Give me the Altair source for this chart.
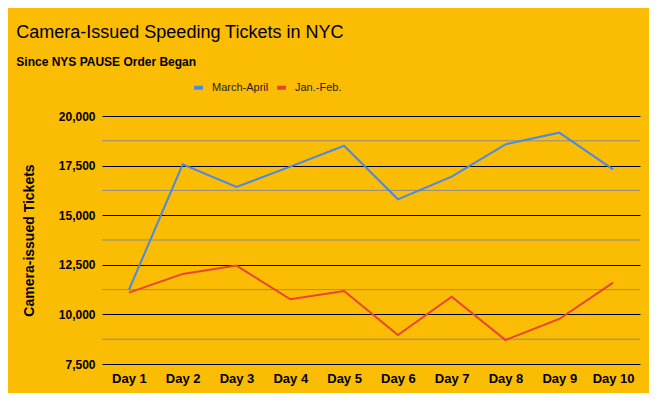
import altair as alt
import pandas as pd

days = ["Day 1", "Day 2", "Day 3", "Day 4", "Day 5", "Day 6", "Day 7", "Day 8", "Day 9", "Day 10"]
march_april = [11230, 17560, 16420, 17450, 18500, 15800, 16940, 18570, 19160, 17310]
jan_feb = [11100, 12040, 12460, 10760, 11180, 8960, 10890, 8710, 9770, 11600]
series_names = ["March-April", "Jan.-Feb."]
major_ticks = [7500, 10000, 12500, 15000, 17500, 20000]
minor_ticks = [8750, 11250, 13750, 16250, 18750]

rows = []
for d, v in zip(days, march_april):
    rows.append({"day": d, "value": v, "series": series_names[0]})
for d, v in zip(days, jan_feb):
    rows.append({"day": d, "value": v, "series": series_names[1]})
df = pd.DataFrame(rows)
minor_df = pd.DataFrame({"value": minor_ticks})

BG = "#FBBC04"
FONT = "Liberation Sans, Arial, sans-serif"

y_scale = alt.Scale(domain=[7500, 20000], nice=False, zero=False)
y_axis = alt.Axis(title="Camera-issued Tickets", values=major_ticks, ticks=False, domain=False,
                  labelExpr="format(datum.value, ',')",
                  gridColor="#000000", gridWidth=1, gridOpacity=1,
                  labelFont=FONT, labelFontWeight="bold", labelFontSize=12,
                  labelColor="#000", labelPadding=7,
                  titleFont=FONT, titleFontWeight="bold", titleFontSize=14,
                  titleColor="#000", titlePadding=22)

minor = alt.Chart(minor_df).mark_rule(color="#8c8c8c", strokeWidth=1).encode(
    y=alt.Y("value:Q", scale=y_scale, axis=y_axis)
)

lines = alt.Chart(df).mark_line(strokeWidth=2).encode(
    x=alt.X("day:N", sort=days, scale=alt.Scale(type="point", padding=0.5),
            axis=alt.Axis(title=None, labelAngle=0, ticks=False, domain=False, grid=False,
                          labelFont=FONT, labelFontWeight="bold", labelFontSize=13,
                          labelColor="#000", labelPadding=8)),
    y=alt.Y("value:Q", scale=y_scale, axis=y_axis),
    color=alt.Color("series:N", sort=series_names,
                    scale=alt.Scale(domain=series_names, range=["#4A89E8", "#EA4335"]),
                    legend=alt.Legend(title=None, orient="none", direction="horizontal",
                                      legendX=90, legendY=-35, symbolType="stroke",
                                      symbolStrokeWidth=4, symbolSize=80,
                                      labelFont=FONT, labelFontSize=11, labelColor="#222",
                                      labelOffset=7, columnPadding=0)),
)

chart = alt.layer(minor, lines).properties(
    width=538,
    height=248,
    background=BG,
    padding={"left": 8, "top": 16, "right": 8, "bottom": 8},
    title=alt.TitleParams(
        text="Camera-Issued Speeding Tickets in NYC",
        subtitle="Since NYS PAUSE Order Began",
        anchor="start", frame="bounds",
        font=FONT, fontSize=18, fontWeight="normal", color="#000",
        subtitleFont=FONT, subtitleFontSize=12, subtitleFontWeight="bold",
        subtitleColor="#000", subtitlePadding=15, offset=13, dx=-6,
    ),
).configure_view(stroke=None)

chart.save("out.html", embed_options={"renderer": "svg", "actions": False})
